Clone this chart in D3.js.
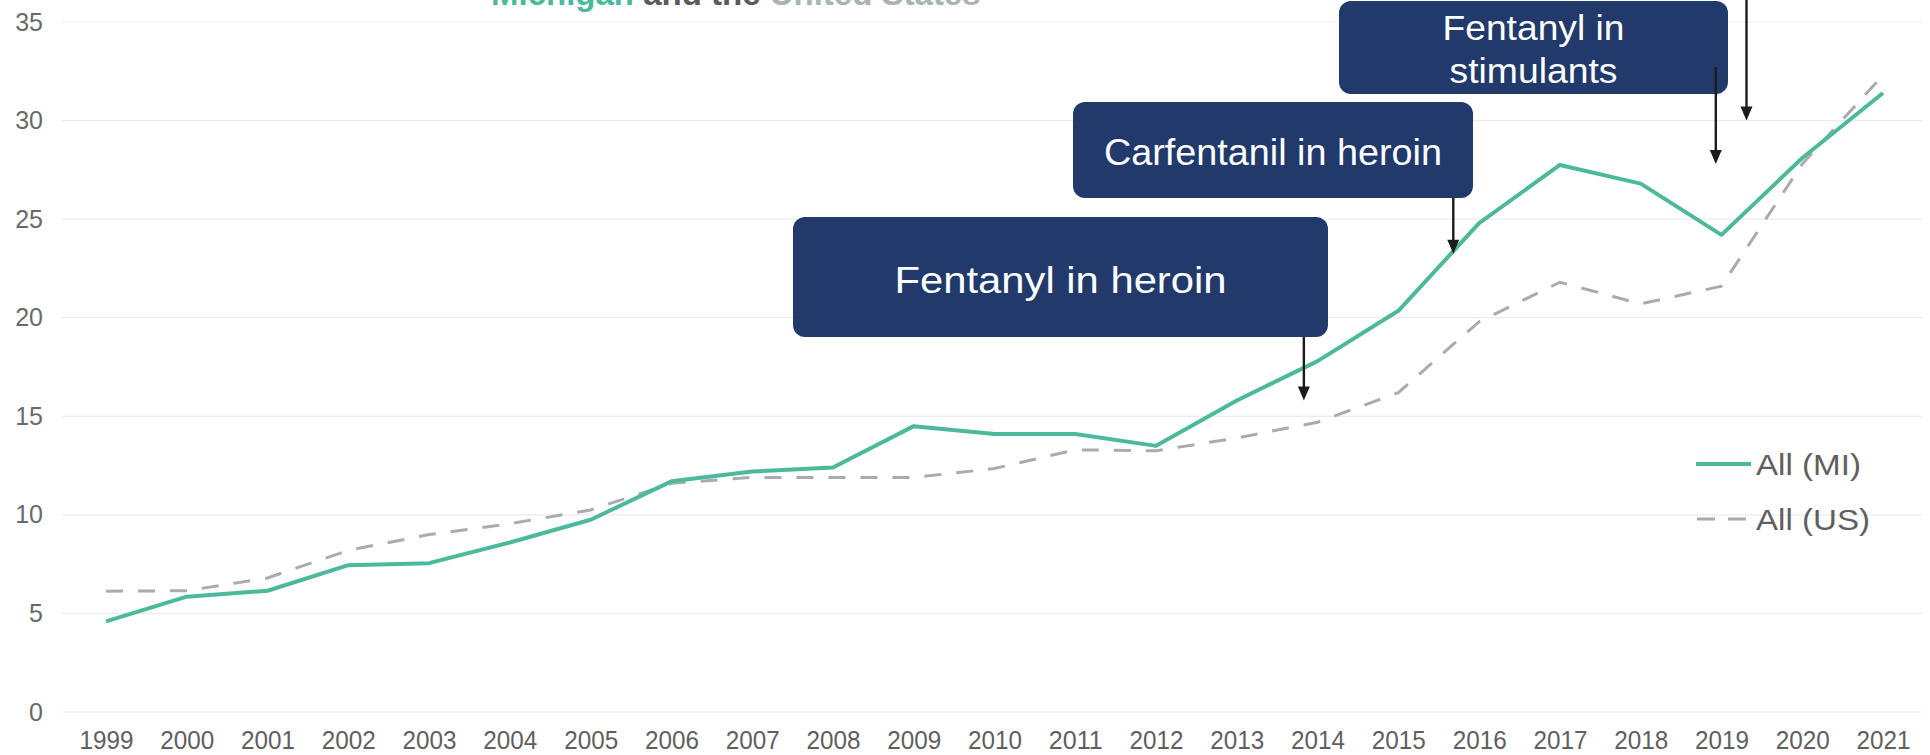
<!DOCTYPE html>
<html>
<head>
<meta charset="utf-8">
<script src="https://cdn.jsdelivr.net/npm/d3@7"></script>
<style>
  html, body { margin: 0; padding: 0; background: #ffffff; }
  svg { display: block; }
  text { font-family: "Liberation Sans", Arial, sans-serif; }
</style>
</head>
<body>
<svg id="chart" width="1930" height="755"></svg>
<script>
// ---- Data ----
const years = [1999, 2000, 2001, 2002, 2003, 2004, 2005, 2006, 2007, 2008, 2009, 2010,
               2011, 2012, 2013, 2014, 2015, 2016, 2017, 2018, 2019, 2020, 2021];
const miValues = [4.6, 5.85, 6.15, 7.45, 7.55, 8.6, 9.75, 11.7, 12.2, 12.4, 14.5, 14.1,
                  14.1, 13.5, 15.8, 17.8, 20.35, 24.8, 27.75, 26.8, 24.2, 28.1, 31.4];
const usValues = [6.13, 6.15, 6.8, 8.2, 9.0, 9.55, 10.25, 11.6, 11.9, 11.9, 11.9, 12.35,
                  13.3, 13.25, 13.9, 14.7, 16.2, 19.8, 21.8, 20.7, 21.6, 27.8, 32.3];
const yTicks = [0, 5, 10, 15, 20, 25, 30, 35];
const seriesNames = ["All (MI)", "All (US)"];
const titleParts = ["Michigan", " and the ", "United States"];
const annotationTexts = [["Fentanyl in heroin"], ["Carfentanil in heroin"], ["Fentanyl in", "stimulants"]];
// arrow targets (year position, value at tip)
const arrowYears = [2013.83, 2015.68, 2018.93, 2019.31];
const arrowValues = [15.8, 23.25, 27.8, 30.0];

// ---- Layout ----
const svg = d3.select("#chart");
const x = d3.scaleLinear().domain([1999, 2021]).range([106, 1883]);
const y = d3.scaleLinear().domain([0, 35]).range([712, 22]);

const GREEN = "#4DB99B";
const GRAY = "#ABABAB";
const NAVY = "#223A6B";
const LABEL = "#5f5f5f";

// gridlines
svg.append("g").selectAll("line").data(yTicks).join("line")
  .attr("x1", 62).attr("x2", 1922)
  .attr("y1", d => y(d)).attr("y2", d => y(d))
  .attr("stroke", "#ececec").attr("stroke-width", 1.2);

// y axis
const yAxis = d3.axisLeft(y).tickValues(yTicks).tickSize(0).tickPadding(0);
const gy = svg.append("g").attr("transform", "translate(43,0)").call(yAxis);
gy.select(".domain").remove();
gy.selectAll("text").attr("font-size", 25).attr("fill", "#6a6a6a")
  .attr("font-family", "'Liberation Sans', Arial, sans-serif");

// x axis
const xAxis = d3.axisBottom(x).tickValues(years).tickFormat(d3.format("d")).tickSize(0).tickPadding(0);
const gx = svg.append("g").attr("transform", "translate(0,731)").call(xAxis);
gx.select(".domain").remove();
gx.selectAll("text").attr("font-size", 25.5).attr("fill", LABEL).attr("dy", "0.71em")
  .attr("textLength", 54).attr("lengthAdjust", "spacingAndGlyphs")
  .attr("font-family", "'Liberation Sans', Arial, sans-serif");

// title (partially cut at top, as in the source)
const title = svg.append("text").attr("x", 491).attr("y", 5)
  .attr("font-size", 33).attr("font-weight", "bold");
const titleColors = [GREEN, "#5a5a5a", "#a8b5b0"];
titleParts.forEach((t, i) => title.append("tspan").attr("fill", titleColors[i]).text(t));

// lines
const line = d3.line().x((d, i) => x(years[i])).y(d => y(d));
svg.append("path").datum(usValues).attr("d", line)
  .attr("fill", "none").attr("stroke", GRAY).attr("stroke-width", 3)
  .attr("stroke-dasharray", "17,15");
svg.append("path").datum(miValues).attr("d", line)
  .attr("fill", "none").attr("stroke", GREEN).attr("stroke-width", 4)
  .attr("stroke-linejoin", "round");

// legend
const legend = svg.append("g");
legend.append("line").attr("x1", 1696).attr("x2", 1751).attr("y1", 464).attr("y2", 464)
  .attr("stroke", GREEN).attr("stroke-width", 4);
legend.append("line").attr("x1", 1697).attr("x2", 1751).attr("y1", 519).attr("y2", 519)
  .attr("stroke", GRAY).attr("stroke-width", 3).attr("stroke-dasharray", "18,13");
legend.append("text").attr("x", 1756).attr("y", 475).attr("font-size", 30).attr("fill", LABEL)
  .attr("textLength", 105).attr("lengthAdjust", "spacingAndGlyphs").text(seriesNames[0]);
legend.append("text").attr("x", 1756).attr("y", 530).attr("font-size", 30).attr("fill", LABEL)
  .attr("textLength", 114).attr("lengthAdjust", "spacingAndGlyphs").text(seriesNames[1]);

// annotation boxes
const boxes = [
  {x0: 793, y0: 217, x1: 1328, y1: 337, fs: 37, base: [293], len: [332]},
  {x0: 1073, y0: 102, x1: 1473, y1: 198, fs: 36, base: [165], len: [338]},
  {x0: 1339, y0: 1, x1: 1728, y1: 94, fs: 35, base: [40, 83], len: [182, 168]}
];
boxes.forEach((b, i) => {
  svg.append("rect").attr("x", b.x0).attr("y", b.y0)
    .attr("width", b.x1 - b.x0).attr("height", b.y1 - b.y0)
    .attr("rx", 12).attr("ry", 12).attr("fill", NAVY);
  annotationTexts[i].forEach((t, j) => {
    svg.append("text").attr("x", (b.x0 + b.x1) / 2).attr("y", b.base[j])
      .attr("text-anchor", "middle").attr("font-size", b.fs).attr("fill", "#ffffff")
      .attr("textLength", b.len[j]).attr("lengthAdjust", "spacingAndGlyphs").text(t);
  });
});

// arrows
const arrowStarts = [337, 198, 67, 0];
arrowYears.forEach((yr, i) => {
  const ax = x(yr), tip = y(arrowValues[i]);
  svg.append("line").attr("x1", ax).attr("x2", ax)
    .attr("y1", arrowStarts[i]).attr("y2", tip - 10)
    .attr("stroke", "#1c1c1c").attr("stroke-width", 2.4);
  svg.append("path")
    .attr("d", `M${ax - 6},${tip - 14} L${ax + 6},${tip - 14} L${ax},${tip} Z`)
    .attr("fill", "#1c1c1c");
});
</script>
</body>
</html>
